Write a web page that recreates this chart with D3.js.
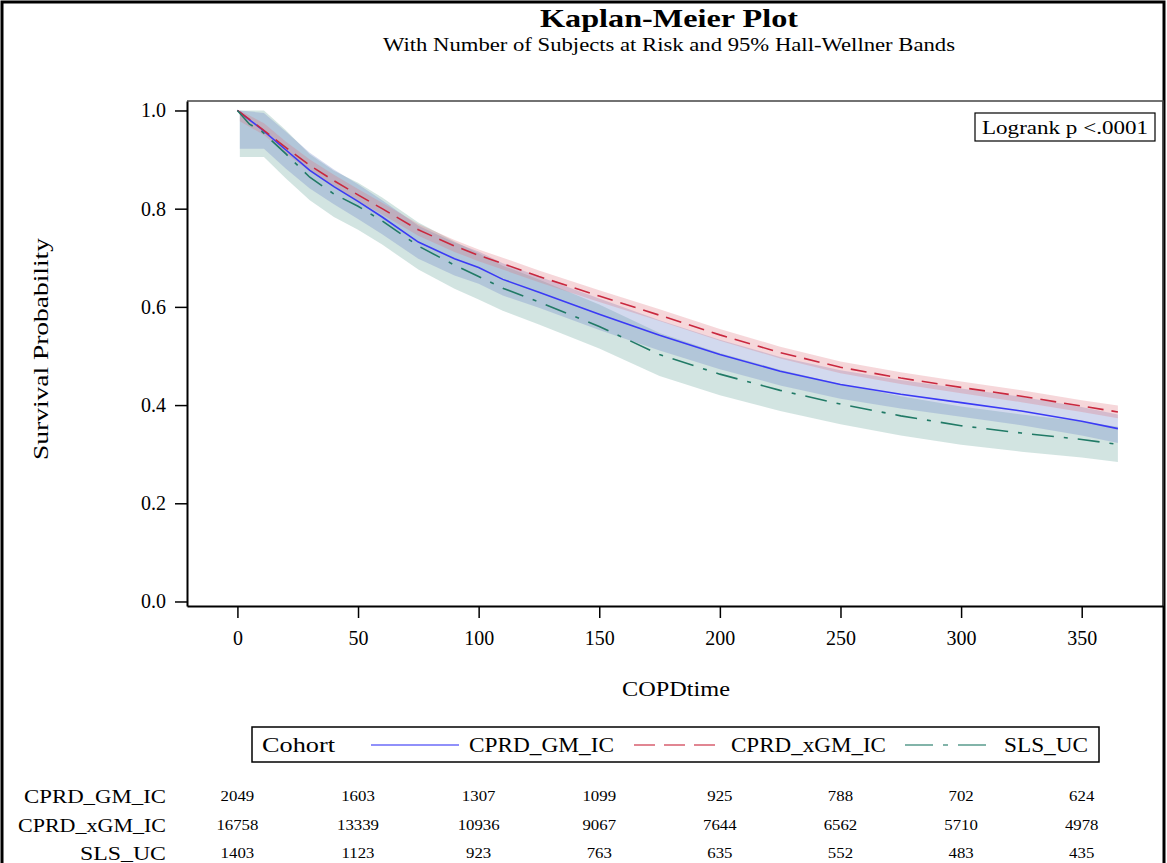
<!DOCTYPE html>
<html>
<head>
<meta charset="utf-8">
<script src="https://cdn.jsdelivr.net/npm/d3@7"></script>
<style>
  body { margin: 0; background: #fff; }
  svg text { font-family: "Liberation Serif", "Times New Roman", serif; fill: #000; }
</style>
</head>
<body>
<div id="chart"></div>
<script>
// survival estimates
const times = [0, 5, 10, 20, 30, 40, 50, 60, 75, 90, 100, 110, 125, 150, 175, 200, 225, 250, 275, 300, 325, 350, 365];
const survGM = [1.0, 0.981, 0.962, 0.920, 0.878, 0.845, 0.815, 0.783, 0.732, 0.698, 0.680, 0.656, 0.630, 0.585, 0.542, 0.503, 0.469, 0.442, 0.422, 0.405, 0.388, 0.367, 0.352];
const survXGM = [1.0, 0.982, 0.963, 0.925, 0.888, 0.857, 0.828, 0.800, 0.757, 0.724, 0.705, 0.688, 0.662, 0.622, 0.583, 0.543, 0.507, 0.477, 0.455, 0.436, 0.418, 0.398, 0.386];
const survSLS = [1.0, 0.972, 0.958, 0.912, 0.864, 0.830, 0.805, 0.775, 0.724, 0.685, 0.662, 0.638, 0.610, 0.560, 0.503, 0.463, 0.430, 0.402, 0.378, 0.358, 0.343, 0.330, 0.320];

// Hall-Wellner bands
const bandTimes = [1, 11, 20, 30, 40, 50, 60, 75, 90, 100, 110, 125, 150, 175, 200, 225, 250, 275, 300, 325, 350, 365];
const lowGM = [0.922, 0.922, 0.882, 0.841, 0.809, 0.779, 0.748, 0.698, 0.664, 0.647, 0.623, 0.598, 0.553, 0.511, 0.473, 0.440, 0.413, 0.393, 0.376, 0.359, 0.338, 0.323];
const highGM = [1.0, 0.995, 0.957, 0.914, 0.880, 0.850, 0.817, 0.765, 0.731, 0.713, 0.689, 0.662, 0.617, 0.573, 0.533, 0.498, 0.471, 0.451, 0.434, 0.417, 0.396, 0.381];
const lowXGM = [0.978, 0.950, 0.913, 0.876, 0.845, 0.816, 0.788, 0.745, 0.712, 0.693, 0.676, 0.650, 0.610, 0.571, 0.531, 0.495, 0.465, 0.443, 0.424, 0.406, 0.386, 0.373];
const highXGM = [1.0, 0.974, 0.937, 0.900, 0.869, 0.840, 0.812, 0.769, 0.736, 0.717, 0.700, 0.674, 0.634, 0.595, 0.555, 0.519, 0.489, 0.467, 0.448, 0.430, 0.410, 0.399];
const lowSLS = [0.905, 0.905, 0.862, 0.817, 0.783, 0.757, 0.727, 0.676, 0.637, 0.615, 0.592, 0.564, 0.515, 0.459, 0.420, 0.388, 0.361, 0.338, 0.319, 0.305, 0.293, 0.284];
const highSLS = [1.0, 1.0, 0.960, 0.911, 0.877, 0.853, 0.823, 0.772, 0.733, 0.709, 0.684, 0.656, 0.605, 0.547, 0.506, 0.472, 0.443, 0.418, 0.397, 0.381, 0.367, 0.356];

// subjects at risk
const cohorts = ["CPRD_GM_IC", "CPRD_xGM_IC", "SLS_UC"];
const riskTimes = [0, 50, 100, 150, 200, 250, 300, 350];
const riskGM = [2049, 1603, 1307, 1099, 925, 788, 702, 624];
const riskXGM = [16758, 13339, 10936, 9067, 7644, 6562, 5710, 4978];
const riskSLS = [1403, 1123, 923, 763, 635, 552, 483, 435];

const xTicks = [0, 50, 100, 150, 200, 250, 300, 350];
const yTicks = [0, 0.2, 0.4, 0.6, 0.8, 1.0];

const series = [
  { name: cohorts[0], surv: survGM, low: lowGM, high: highGM, risk: riskGM,
    color: "#3a3af5", band: "#6a82c8", bandOpacity: 0.3, dash: null, legendDash: null },
  { name: cohorts[1], surv: survXGM, low: lowXGM, high: highXGM, risk: riskXGM,
    color: "#c9283e", band: "#e0707a", bandOpacity: 0.28, dash: "16,8", legendDash: "21,9" },
  { name: cohorts[2], surv: survSLS, low: lowSLS, high: highSLS, risk: riskSLS,
    color: "#217a66", band: "#6aa59a", bandOpacity: 0.3, dash: "22,10,4,10", legendDash: "28,10,5,10" },
];

const width = 1167, height = 863;
const plot = { left: 187, right: 1163, top: 101, bottom: 606 };

// SAS text is wider than Liberation Serif, so stretch to the measured width
function fitWidth(sel, w) {
  sel.attr("textLength", w).attr("lengthAdjust", "spacingAndGlyphs");
}

const svg = d3.select("#chart")
  .append("svg")
  .attr("width", width)
  .attr("height", height);

// outer frame
svg.append("rect")
  .attr("x", 2).attr("y", 2)
  .attr("width", 1162).attr("height", 900)
  .attr("fill", "none")
  .attr("stroke", "#000")
  .attr("stroke-width", 3);

const x = d3.scaleLinear().domain([-20.9, 383.7]).range([plot.left, plot.right]);
const y = d3.scaleLinear().domain([-0.0092, 1.0193]).range([plot.bottom, plot.top]);

// titles
svg.append("text")
  .attr("x", 669).attr("y", 27)
  .attr("text-anchor", "middle")
  .style("font-size", "25px")
  .style("font-weight", "bold")
  .text("Kaplan-Meier Plot")
  .call(fitWidth, 258);

svg.append("text")
  .attr("x", 669).attr("y", 51)
  .attr("text-anchor", "middle")
  .style("font-size", "19px")
  .text("With Number of Subjects at Risk and 95% Hall-Wellner Bands")
  .call(fitWidth, 572);

// bands
const bandOrder = [series[2], series[0], series[1]];
bandOrder.forEach((s) => {
  const area = d3.area()
    .x((d, i) => x(bandTimes[i]))
    .y0((d, i) => y(s.low[i]))
    .y1((d, i) => y(s.high[i]));
  svg.append("path")
    .datum(bandTimes)
    .attr("d", area)
    .attr("fill", s.band)
    .attr("fill-opacity", s.bandOpacity);
});

// survival curves
series.forEach((s) => {
  const line = d3.line()
    .x((d, i) => x(times[i]))
    .y((d, i) => y(s.surv[i]));
  svg.append("path")
    .datum(times)
    .attr("d", line)
    .attr("fill", "none")
    .attr("stroke", s.color)
    .attr("stroke-width", 1.6)
    .attr("stroke-dasharray", s.dash);
});

// frame top/right
svg.append("path")
  .attr("d", `M${plot.left},${plot.top}H${plot.right}V${plot.bottom}`)
  .attr("fill", "none")
  .attr("stroke", "#444")
  .attr("stroke-width", 1.5);

// axes
const yAxis = svg.append("g")
  .attr("transform", `translate(${plot.left},0)`)
  .call(d3.axisLeft(y).tickValues(yTicks).tickFormat(d3.format(".1f")).tickSize(12).tickSizeOuter(0).tickPadding(9));

const xAxis = svg.append("g")
  .attr("transform", `translate(0,${plot.bottom})`)
  .call(d3.axisBottom(x).tickValues(xTicks).tickSize(12).tickSizeOuter(0).tickPadding(13));

[yAxis, xAxis].forEach((g) => {
  g.attr("font-family", null).attr("font-size", null);
  g.select(".domain").attr("stroke", "#000").attr("stroke-width", 2);
  g.selectAll(".tick line").attr("stroke", "#000").attr("stroke-width", 1.5);
  g.selectAll(".tick text").style("font-size", "20px");
});

svg.append("text")
  .attr("transform", "rotate(-90)")
  .attr("x", -349).attr("y", 48)
  .attr("text-anchor", "middle")
  .style("font-size", "20px")
  .text("Survival Probability")
  .call(fitWidth, 222);

svg.append("text")
  .attr("x", 676).attr("y", 696)
  .attr("text-anchor", "middle")
  .style("font-size", "20px")
  .text("COPDtime")
  .call(fitWidth, 108);

// logrank inset
svg.append("rect")
  .attr("x", 975).attr("y", 113)
  .attr("width", 180).attr("height", 28)
  .attr("fill", "#fff")
  .attr("stroke", "#000")
  .attr("stroke-width", 1.2);

svg.append("text")
  .attr("x", 982).attr("y", 134)
  .style("font-size", "19px")
  .text("Logrank p <.0001")
  .call(fitWidth, 166);

// legend
const legend = svg.append("g");
legend.append("rect")
  .attr("x", 252).attr("y", 727)
  .attr("width", 847).attr("height", 35)
  .attr("fill", "#fff")
  .attr("stroke", "#000")
  .attr("stroke-width", 1.5);

legend.append("text")
  .attr("x", 262).attr("y", 752)
  .style("font-size", "20px")
  .text("Cohort")
  .call(fitWidth, 73);

const legendPos = [
  { x1: 371, x2: 459, tx: 469, w: 145 },
  { x1: 634, x2: 717, tx: 731, w: 155 },
  { x1: 905, x2: 995, tx: 1004, w: 84 },
];
series.forEach((s, i) => {
  const p = legendPos[i];
  legend.append("line")
    .attr("x1", p.x1).attr("x2", p.x2)
    .attr("y1", 745).attr("y2", 745)
    .attr("stroke", s.color)
    .attr("stroke-opacity", 0.75)
    .attr("stroke-width", 1.6)
    .attr("stroke-dasharray", s.legendDash);
  legend.append("text")
    .attr("x", p.tx).attr("y", 752)
    .style("font-size", "20px")
    .text(s.name)
    .call(fitWidth, p.w);
});

// at-risk table
const rowY = [803, 832, 860];
const labelW = [142, 148, 86];
series.forEach((s, i) => {
  svg.append("text")
    .attr("x", 166).attr("y", rowY[i])
    .attr("text-anchor", "end")
    .style("font-size", "19px")
    .text(s.name)
    .call(fitWidth, labelW[i]);

  svg.append("g")
    .selectAll("text")
    .data(s.risk)
    .join("text")
    .attr("x", (d, j) => x(riskTimes[j]))
    .attr("y", rowY[i] - 2)
    .attr("text-anchor", "middle")
    .style("font-size", "15px")
    .text((d) => d)
    .each(function () {
      d3.select(this).call(fitWidth, this.getComputedTextLength() * 1.12);
    });
});
</script>
</body>
</html>
